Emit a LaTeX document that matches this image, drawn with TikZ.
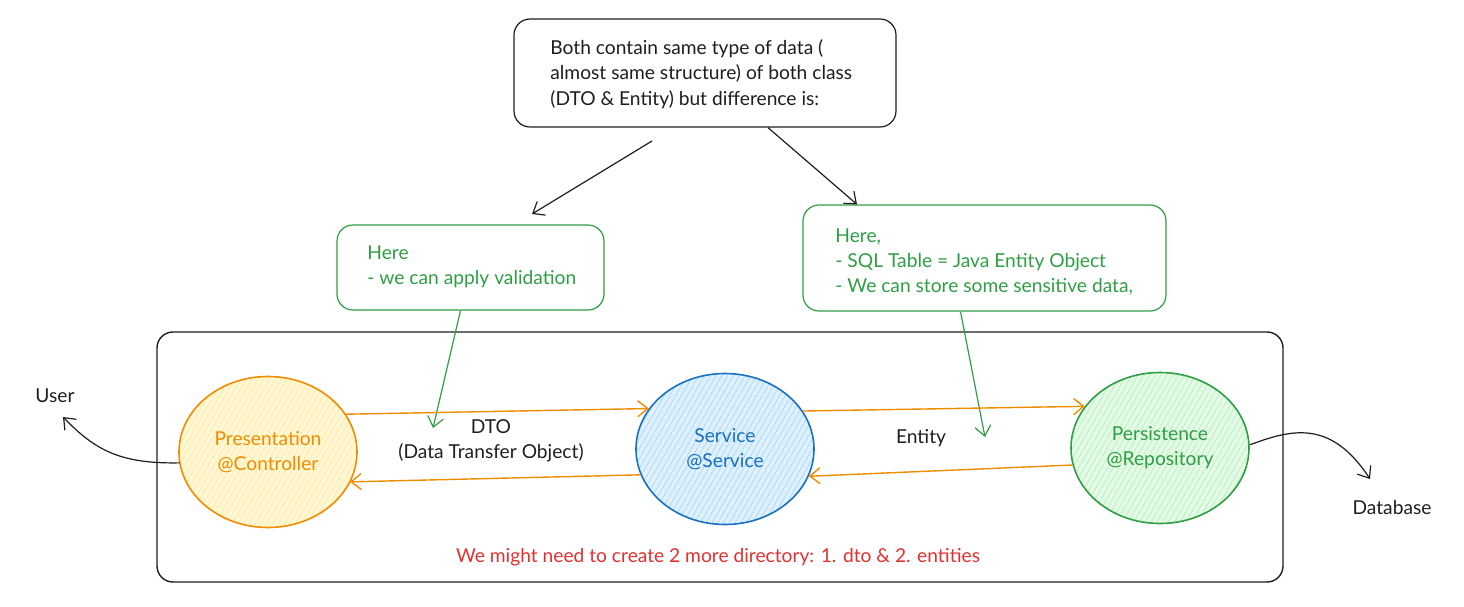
\documentclass[tikz,border=0pt]{standalone}
\usepackage{fontspec}
\setmainfont{Lato}
\usetikzlibrary{shapes.geometric,arrows.meta,patterns.meta}
\definecolor{ink}{HTML}{1E1E1E}
\definecolor{orangeline}{HTML}{F08C00}
\definecolor{orangefill}{HTML}{FFEC99}
\definecolor{blueline}{HTML}{1971C2}
\definecolor{bluefill}{HTML}{A5D8FF}
\definecolor{greenline}{HTML}{2F9E44}
\definecolor{greenfill}{HTML}{B2F2BB}
\definecolor{redtext}{HTML}{E03131}
\tikzset{
note/.style = {draw=ink, rectangle, rounded corners=8pt, line width=0.6pt},
greennote/.style = {draw=greenline, rectangle, rounded corners=8pt, line width=0.6pt},
frame/.style = {draw=ink, rectangle, rounded corners=8pt, line width=0.7pt},
label/.style = {inner sep=0pt, align=left, anchor=west},
layer/.style = {ellipse, minimum width=89pt, minimum height=75.5pt, inner sep=0pt, line width=0.8pt, align=center},
pres/.style = {layer, draw=orangeline, text=orangeline, preaction={fill=orangefill!40},
  pattern={Lines[angle=60,distance=2.5pt,line width=0.35pt]}, pattern color=orangefill},
serv/.style = {layer, draw=blueline, text=blueline, preaction={fill=bluefill!35},
  pattern={Lines[angle=60,distance=2.5pt,line width=0.35pt]}, pattern color=bluefill},
pers/.style = {layer, draw=greenline, text=greenline, preaction={fill=greenfill!35},
  pattern={Lines[angle=60,distance=2.5pt,line width=0.35pt]}, pattern color=greenfill},
flow/.style = {->, draw=orangeline, line width=0.7pt},
link/.style = {->, draw=ink, line width=0.6pt},
hint/.style = {->, draw=greenline, line width=0.6pt}
}

\begin{document}
\begin{tikzpicture}[x=0.5pt, y=-0.5pt, >={Straight Barb[length=5pt,width=8pt]},
    font=\fontsize{9.6}{12.6}\selectfont, text=ink]
    \useasboundingbox (0,0) rectangle (1464,606);
    % We start by placing the boxes
    \node [note, minimum width=191pt, minimum height=54pt] (topbox) at (705,73) {};
    \node [label] (toptext) at (550,74) {Both contain same type of data (\\almost same structure) of both class\\(DTO \& Entity) but difference is:};
    \node [greennote, minimum width=133.5pt, minimum height=42.5pt] (dtobox) at (470.5,267.5) {};
    \node [label, text=greenline] (dtotext) at (367,267) {Here\\- we can apply validation};
    \node [greennote, minimum width=181.5pt, minimum height=53pt] (entitybox) at (984.5,258) {};
    \node [label, text=greenline] (entitytext) at (835,262) {Here,\\- SQL Table = Java Entity Object\\- We can store some sensitive data,};
    \node [frame, minimum width=563pt, minimum height=125pt] (frame) at (720,457) {};

    % the three layers
    \node [pres] (presentation) at (268,452) {Presentation\\@Controller};
    \node [serv] (service) at (725,449) {Service\\@Service};
    \node [pers] (persistence) at (1160,448) {Persistence\\@Repository};

    \node (user) at (55,396) {User};
    \node (database) at (1392,507) {Database};
    \node [align=center] (dto) at (491,441) {DTO\\(Data Transfer Object)};
    \node (entity) at (921,438) {Entity};
    \node [text=redtext] (todo) at (718,557) {We might need to create 2 more directory: 1. dto \& 2. entities};

    \coordinate (a1) at (652,141);
    \coordinate (a2) at (532,214);
    \coordinate (dtoend) at (433,428);
    \coordinate (entityend) at (985,437);
    \coordinate (userend) at (63,417);
    \coordinate (dbend) at (1370,479);

    % Once the nodes are placed, connecting them is easy.
    \draw [link] (a1) -- (a2);
    \draw [link] ([xshift=31.5pt]topbox.south) -- ([xshift=-63.75pt]entitybox.north);
    \draw [hint] ([xshift=-5pt]dtobox.south) -- (dtoend);
    \draw [hint] ([xshift=-12pt]entitybox.south) -- (entityend);
    \draw [flow] (presentation.26) -- (service.152);
    \draw [flow] (service.197) -- (presentation.340);
    \draw [flow] (service.26) -- (persistence.151);
    \draw [flow] (persistence.191) -- (service.342);
    \draw [link] (presentation.187) .. controls (120,464) and (95,450) .. (userend);
    \draw [link] (persistence.2) .. controls (1290,430) and (1330,418) .. (dbend);
\end{tikzpicture}
\end{document}
